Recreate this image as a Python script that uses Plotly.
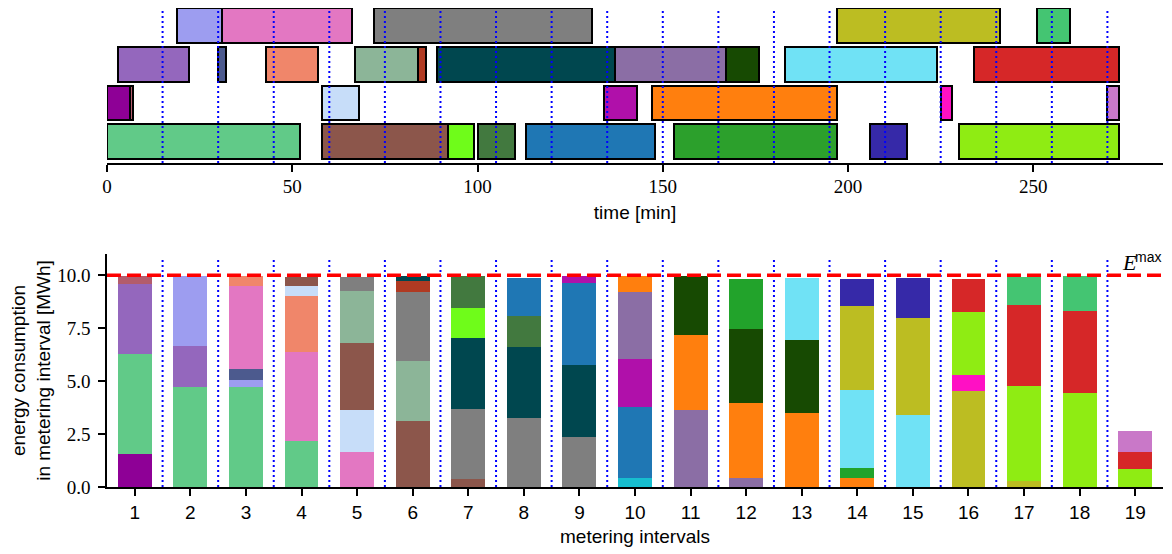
import plotly.graph_objects as go
import numpy as np

# ---------------- top panel: schedule of jobs ----------------
job_row = [3, 3, 3, 3, 3,
           2, 2, 2, 2, 2, 2, 2, 2, 2, 2,
           1, 1, 1, 1, 1, 1, 1,
           0, 0, 0, 0, 0, 0, 0, 0]
job_start = [19, 31, 72, 197, 251,
             3, 30, 43, 67, 84, 89, 137, 167, 183, 234,
             0, 6.2, 58, 134, 147, 225, 270,
             0, 58, 92, 100, 113, 153, 206, 230]
job_end = [31, 66, 131, 241, 260,
           22, 32, 57, 84, 86, 137, 167, 176, 224, 273,
           6.2, 7.1, 68, 143, 197, 228, 273,
           52, 92, 99, 110, 148, 197, 216, 273]
job_color = ["#9d9df0", "#e377c2", "#7f7f7f", "#bcbd22", "#44c572",
             "#9467bd", "#4c5a8e", "#f0866a", "#8cb598", "#b03a22", "#00474f",
             "#8b6ea5", "#174a02", "#70e2f5", "#d62728",
             "#8e0096", "#b35c6c", "#c7ddf9", "#b010aa", "#ff7f0e", "#ff10c4", "#c978c8",
             "#61ca88", "#8c564b", "#6ffc1a", "#42793f", "#1f77b4", "#2ca02c", "#3629a8", "#8fec13"]

time_ticks = [0, 50, 100, 150, 200, 250]
interval_len = 15
time_max = 285

# ---------------- bottom panel: energy per metering interval ----------------
intervals = list(range(1, 20))
seg_first = [1, 1, 1, 1, 2, 3, 3, 3, 4, 4, 5, 5, 6, 6, 7, 7,
             10, 8, 9, 10, 10, 11, 12, 13, 14, 14, 16, 16, 16, 17, 19]
seg_values = [
    [1.54],                          # purple-magenta
    [4.76, 4.71, 4.71, 2.16],        # green
    [3.27, 1.94],                    # purple
    [0.38],                          # mauve
    [3.30, 0.33],                    # lavender
    [0.52],                          # slate blue
    [3.92, 4.20, 1.64],              # pink
    [0.47, 2.65],                    # salmon
    [0.47, 1.98],                    # light blue
    [0.44, 3.17, 3.10, 0.36],        # brown
    [2.45, 2.84],                    # sage
    [0.68, 3.26, 3.31, 3.24, 2.35],  # gray
    [0.52],                          # red-brown
    [0.23, 3.35, 3.36, 3.40],        # teal
    [1.42],                          # lime
    [1.51, 1.46],                    # dark olive green
    [0.41],                          # cyan
    [1.83, 3.87, 3.35],              # blue
    [0.33, 2.27],                    # magenta
    [3.17, 3.62, 0.41],              # muted purple
    [0.75, 3.55, 3.54, 3.48, 0.41],  # orange
    [2.78, 3.50, 3.45],              # dark green
    [2.36, 0.0, 0.47],               # green
    [2.96, 3.69, 3.39],              # light cyan
    [3.97, 4.58, 4.52, 0.27],        # olive
    [1.27, 1.89],                    # dark blue
    [0.76],                          # hot pink
    [2.97, 4.49, 4.43, 0.83],        # yellow-green
    [1.56, 3.82, 3.87, 0.81],        # red
    [1.33, 1.65],                    # green
    [0.99],                          # orchid
]
seg_colors = ["#8e0096", "#61ca88", "#9467bd", "#b35c6c", "#9d9df0", "#4c5a8e",
              "#e377c2", "#f0866a", "#c7ddf9", "#8c564b", "#8cb598", "#7f7f7f",
              "#b03a22", "#00474f", "#6ffc1a", "#42793f", "#17becf", "#1f77b4",
              "#b010aa", "#8b6ea5", "#ff7f0e", "#174a02", "#22a32b", "#70e2f5",
              "#bcbd22", "#3629a8", "#ff10c4", "#8fec13", "#d62728", "#44c572",
              "#c978c8"]
seg_first[22] = 12
E_max = 10.0
energy_ticks = [0, 2.5, 5.0, 7.5, 10.0]

SANS = "Liberation Sans, Arial, sans-serif"
SERIF = "Liberation Serif, DejaVu Serif, serif"

fig = go.Figure()

# top schedule bars
fig.add_trace(go.Bar(
    orientation="h",
    y=job_row,
    x=np.array(job_end) - np.array(job_start),
    base=job_start,
    width=0.9,
    cliponaxis=False,
    marker=dict(color=job_color, line=dict(color="black", width=2)),
    xaxis="x", yaxis="y", showlegend=False, hoverinfo="skip",
))

# bottom stacked bars (manual stacking)
level = np.zeros(len(intervals))
for first, vals, col in zip(seg_first, seg_values, seg_colors):
    idx = np.arange(first - 1, first - 1 + len(vals))
    xs = np.array(intervals)[idx]
    base = level[idx].copy()
    level[idx] += np.array(vals)
    fig.add_trace(go.Bar(
        x=xs, y=vals, base=base, width=0.61,
        marker=dict(color=col, line=dict(width=0)),
        xaxis="x2", yaxis="y2", showlegend=False, hoverinfo="skip",
    ))

shapes = []
for t in range(interval_len, time_max, interval_len):
    shapes.append(dict(type="line", xref="x", yref="y domain", x0=t, x1=t, y0=0, y1=0.99,
                       line=dict(color="#0000ff", width=2, dash="2px,3px"), layer="above"))
for k in intervals[:-1]:
    shapes.append(dict(type="line", xref="x2", yref="y2 domain", x0=k + 0.5, x1=k + 0.5,
                       y0=0, y1=0.98, line=dict(color="#0000ff", width=2, dash="2px,3px"),
                       layer="above"))
shapes.append(dict(type="line", xref="x2 domain", yref="y2", x0=0, x1=1, y0=E_max, y1=E_max,
                   line=dict(color="#ff0000", width=3.5, dash="14px,6px"), layer="above"))

fig.update_layout(
    width=1164, height=546,
    margin=dict(l=99, r=9, t=0, b=67, autoexpand=False),
    paper_bgcolor="white", plot_bgcolor="white",
    barmode="overlay",
    bargap=0,
    shapes=shapes,
    xaxis=dict(domain=[0, 1], anchor="y", range=[0, time_max], automargin=False,
               tickvals=time_ticks, ticks="outside", ticklen=7, tickwidth=1.5,
               tickcolor="black", showline=True, linecolor="black", linewidth=1.5,
               showgrid=False, zeroline=False, ticklabelstandoff=-2,
               tickfont=dict(family=SERIF, size=19, color="black"),
               title=dict(text="time [min]", font=dict(family=SANS, size=19, color="black"),
                          standoff=10)),
    yaxis=dict(domain=[0.6764, 1], anchor="x", range=[-0.55, 3.45], visible=False,
               automargin=False),
    xaxis2=dict(domain=[0, 1], anchor="y2", range=[0.5, 19.5], automargin=False,
                tickvals=intervals, ticktext=[str(i) for i in intervals],
                ticks="outside", ticklen=7, tickwidth=1.5, tickcolor="black",
                showline=True, linecolor="black", linewidth=1.5,
                showgrid=False, zeroline=False,
                tickfont=dict(family=SANS, size=19, color="black"),
                title=dict(text="metering intervals",
                           font=dict(family=SANS, size=19, color="black"), standoff=8)),
    yaxis2=dict(domain=[0, 0.4864], anchor="x2", range=[0, 11], automargin=False,
                tickvals=energy_ticks, tickformat=".1f",
                ticks="outside", ticklen=7, tickwidth=1.5, tickcolor="black",
                showline=True, linecolor="black", linewidth=1.5,
                showgrid=False, zeroline=False, ticklabelstandoff=4,
                tickfont=dict(family=SERIF, size=19, color="black"),
                title=dict(text="energy consumption<br>in metering interval [MWh]",
                           font=dict(family=SANS, size=19, color="black"), standoff=4)),
    annotations=[
        dict(text="<i>E</i>", xref="paper", yref="y2", x=0.9773, y=10.58,
             xanchor="right", yanchor="middle", showarrow=False,
             font=dict(family=SERIF, size=22, color="black")),
        dict(text="max", xref="paper", yref="y2", x=1.0, y=10.86,
             xanchor="right", yanchor="middle", showarrow=False,
             font=dict(family=SANS, size=14, color="black")),
    ],
)

fig.write_html("out.html")
